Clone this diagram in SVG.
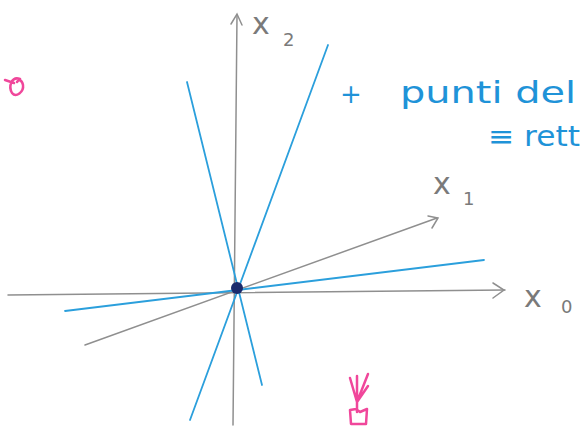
<svg xmlns="http://www.w3.org/2000/svg" width="581" height="428" viewBox="0 0 581 428">
<style>
.ax{stroke:#8f8f8f;stroke-width:1.5;fill:none;stroke-linecap:round}
.bl{stroke:#2b9fdc;stroke-width:1.8;fill:none;stroke-linecap:round}
.gt{font-family:"DejaVu Sans",sans-serif;fill:#7a7a7a}
.bt{font-family:"DejaVu Sans",sans-serif;fill:#1f93d8}
.pk{stroke:#f0479b;stroke-width:2.5;fill:none;stroke-linecap:round;stroke-linejoin:round}
</style>
<rect width="581" height="428" fill="#ffffff"/>
<g id="connectors">
<path class="ax" d="M233,425 L237,15"/>
<path class="ax" d="M231,24 L237,14 L242,25"/>
<path class="ax" d="M8,295 L505,290"/>
<path class="ax" d="M493,283 L504,290 L493,298"/>
<path class="ax" d="M85,345 L437,218"/>
<path class="ax" d="M428,216 L438,218 L432,228"/>
<path class="bl" d="M187,82 L262,385"/>
<path class="bl" d="M328,45 L190,420"/>
<path class="bl" d="M65,311 L484,260"/>
</g>
<g id="origin"><circle cx="237" cy="288" r="6" fill="#1a2a6c"/></g>
<g id="label-x2"><text class="gt" x="252" y="34" font-size="30">x</text><text class="gt" x="283" y="46" font-size="18">2</text></g>
<g id="label-x1"><text class="gt" x="433" y="194" font-size="30">x</text><text class="gt" x="463" y="205" font-size="18">1</text></g>
<g id="label-x0"><text class="gt" x="524" y="307" font-size="30">x</text><text class="gt" x="561" y="313" font-size="18">0</text></g>
<g id="note"><text class="bt" x="340" y="103" font-size="26">+</text><text class="bt" x="400" y="103" font-size="30" textLength="176" lengthAdjust="spacingAndGlyphs">punti del</text><text class="bt" x="488" y="146" font-size="28" textLength="92" lengthAdjust="spacingAndGlyphs">≡ rett</text></g>
<g id="doodles">
<path class="pk" d="M5,80 L14,83 M20,79 C12,76 8,86 12,93 C16,98 24,92 23,85 C22,80 19,79 17,82"/>
<path class="pk" d="M357,402 L357,412 M350,410 L351,424 L366,424 L367,409 L360,412 L356,409 Z M357,402 L350,378 M357,402 L357,376 M357,402 L368,374 M357,402 L368,386"/>
</g>
</svg>
